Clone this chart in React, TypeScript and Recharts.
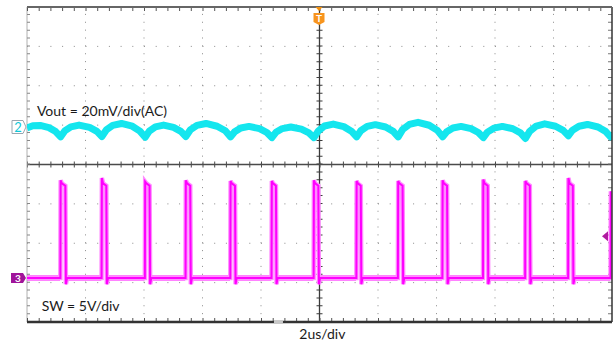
import React from "react";
import { LineChart, Line, XAxis, YAxis, ReferenceLine, ReferenceDot } from "recharts";

// Vout ripple, AC coupled (time in us, value in mV)
const voutTimes = [
  -10.0, -9.8, -9.55, -9.25, -9.02, -8.85,
  -8.71, -8.5, -8.22, -7.86, -7.61, -7.44,
  -7.29, -7.07, -6.77, -6.4, -6.14, -5.96,
  -5.82, -5.61, -5.33, -4.99, -4.74, -4.57,
  -4.42, -4.19, -3.88, -3.5, -3.22, -3.04,
  -2.9, -2.69, -2.41, -2.05, -1.8, -1.63,
  -1.49, -1.27, -0.98, -0.62, -0.36, -0.19,
  -0.04, 0.17, 0.47, 0.83, 1.09, 1.27,
  1.41, 1.63, 1.91, 2.26, 2.52, 2.69,
  2.84, 3.07, 3.37, 3.75, 4.03, 4.21,
  4.35, 4.56, 4.84, 5.18, 5.43, 5.6,
  5.74, 5.96, 6.25, 6.61, 6.87, 7.04,
  7.19, 7.41, 7.7, 8.07, 8.33, 8.51,
  8.65, 8.87, 9.16, 9.52, 9.78, 9.95,
  10.0,
];
const voutMv = [
  -0.5, 0.6, 0.8, -0.3, -2.3, -5.0,
  -2.0, 0.1, 1.0, -0.2, -2.2, -4.8,
  -1.5, 0.8, 1.8, 0.4, -2.1, -5.2,
  -2.1, 0.1, 1.0, -0.2, -2.2, -4.8,
  -1.5, 0.8, 1.8, 0.4, -1.9, -5.0,
  -2.4, -0.5, 0.3, -0.8, -2.8, -5.4,
  -2.7, -0.8, 0.0, -1.1, -3.0, -5.4,
  -2.0, 0.5, 1.5, 0.2, -2.1, -5.0,
  -1.9, 0.3, 1.2, 0.0, -2.2, -5.0,
  -1.3, 1.3, 2.4, 0.9, -1.7, -5.0,
  -2.4, -0.5, 0.3, -0.8, -2.8, -5.4,
  -2.6, -0.6, 0.3, -0.9, -3.0, -5.8,
  -2.1, 0.5, 1.6, 0.4, -1.7, -4.4,
  -1.6, 0.4, 1.3, 0.0, -2.2, -5.0,
  -3.5,
];

// SW node pulses (time in us, level in V)
const swRise = [-8.85, -7.44, -5.96, -4.57, -3.04, -1.63, -0.19, 1.27, 2.69, 4.21, 5.6, 7.04, 8.51];
const swFall = [-8.69, -7.29, -5.81, -4.42, -2.89, -1.49, -0.04, 1.41, 2.84, 4.36, 5.75, 7.19, 8.66];
const swPeak = [12.4, 12.7, 12.2, 12.4, 12.3, 12.3, 12.4, 12.3, 12.3, 12.4, 12.5, 12.3, 12.7];
const swPlateau = 12.0;
const swEnd = 11.7;
const swUndershoot = -0.8;
const swLastEdge = 9.96;

const gridTimes = [-8, -6, -4, -2, 2, 4, 6, 8];
const gridDivs = [-3, -2, -1, 1, 2, 3];

const CH2_OFFSET = 0.952; // divisions
const CH3_OFFSET = -2.88;
const VOUT_SCALE = 20; // mV/div
const SW_SCALE = 5; // V/div
const TRIG_LEVEL = 5.3; // V

const FONT = "Lato, 'Liberation Sans', sans-serif";
const CYAN = "#14e6ee";
const MAGENTA = "#ff00ff";

const voutRows = voutTimes.map((t, i) => ({ t, v: CH2_OFFSET + voutMv[i] / VOUT_SCALE }));

const sw = (v: number) => CH3_OFFSET + v / SW_SCALE;

const swRows: { t: number; v: number }[] = [{ t: -10, v: sw(0) }];
swRise.forEach((r, i) => {
  const f = swFall[i];
  swRows.push(
    { t: r - 0.01, v: sw(0) },
    { t: r, v: sw(swPeak[i]) },
    { t: r + 0.04, v: sw(swPlateau) },
    { t: f, v: sw(swEnd) },
    { t: f + 0.02, v: sw(swUndershoot) },
    { t: f + 0.06, v: sw(0) }
  );
});
swRows.push({ t: swLastEdge - 0.01, v: sw(0) }, { t: swLastEdge, v: sw(11) });

// thick noisy baseline between pulses
const bandRows: { t: number; b: number | null }[] = [];
const bandSegs: [number, number][] = [[-10, swRise[0] - 0.02]];
swFall.forEach((f, i) => {
  const next = i + 1 < swRise.length ? swRise[i + 1] : swLastEdge;
  bandSegs.push([f + 0.08, next - 0.02]);
});
bandSegs.forEach(([a, b]) => {
  bandRows.push({ t: a, b: sw(0) }, { t: b, b: sw(0) }, { t: b + 0.001, b: null });
});

const Txt = ({ cx, cy, text, dx = 0, dy = 0, anchor = "start" }: any) => (
  <text x={cx + dx} y={cy + dy} fontFamily={FONT} fontSize={14} fill="#1a1a1a" textAnchor={anchor}>
    {text}
  </text>
);

const Ch2Marker = ({ cx, cy }: any) => (
  <g>
    <path
      d={`M${cx - 15},${cy - 6.5} L${cx - 4},${cy - 6.5} L${cx - 1},${cy} L${cx - 4},${cy + 6.5} L${cx - 15},${cy + 6.5} Z`}
      fill="#fff"
      stroke="#9aa6b0"
    />
    <text x={cx - 9} y={cy + 5} fontFamily={FONT} fontSize={13} fill="#10c8d8" textAnchor="middle">
      2
    </text>
  </g>
);

const Ch3Marker = ({ cx, cy }: any) => (
  <g>
    <path
      d={`M${cx - 16},${cy - 5} L${cx - 4},${cy - 5} L${cx - 1},${cy} L${cx - 4},${cy + 5} L${cx - 16},${cy + 5} Z`}
      fill="#a0149a"
    />
    <text x={cx - 9} y={cy + 4} fontFamily={FONT} fontSize={10} fontWeight="bold" fill="#fff" textAnchor="middle">
      3
    </text>
  </g>
);

const TrigMarker = ({ cx, cy }: any) => (
  <g>
    <path d={`M${cx - 4},${cy} L${cx + 3},${cy} L${cx - 0.5},${cy + 4} Z`} fill="#f29111" />
    <path
      d={`M${cx - 6},${cy + 6} L${cx + 5},${cy + 6} L${cx + 5},${cy + 15} L${cx - 0.5},${cy + 18} L${cx - 6},${cy + 15} Z`}
      fill="#f7941d"
    />
    <text x={cx - 0.5} y={cy + 15} fontFamily={FONT} fontSize={10} fontWeight="bold" fill="#fff" textAnchor="middle">
      T
    </text>
  </g>
);

const LevelMarker = ({ cx, cy }: any) => (
  <path d={`M${cx - 10},${cy} L${cx - 4},${cy - 5} L${cx - 4},${cy + 5} Z`} fill="#b01aa0" />
);

const PosMarker = ({ cx, cy }: any) => (
  <rect x={cx - 4} y={cy - 1} width={9} height={3} fill="#c8c8c8" />
);

export default function App() {
  return (
    <div style={{ position: "absolute", left: 0, top: 0, width: 615, height: 341, background: "#fff" }}>
      <LineChart width={615} height={341} margin={{ top: 7, right: 3, bottom: 19, left: 27 }}>
        <XAxis type="number" dataKey="t" domain={[-10, 10]} hide allowDataOverflow />
        <YAxis type="number" domain={[-4, 4]} hide allowDataOverflow />

        {gridTimes.map((t) => (
          <ReferenceLine key={`gx${t}`} x={t} stroke="#8a8a8a" strokeDasharray="1 6.875" />
        ))}
        {gridDivs.map((d) => (
          <ReferenceLine key={`gy${d}`} y={d} stroke="#8a8a8a" strokeDasharray="1 10.7" />
        ))}

        {/* center axes with minor ticks */}
        <ReferenceLine x={0} stroke="#3a3a3a" strokeWidth={1.3} />
        <ReferenceLine x={0} stroke="#3a3a3a" strokeWidth={6} strokeDasharray="1 6.875" />
        <ReferenceLine y={0} stroke="#4a4a4a" strokeWidth={1.3} />
        <ReferenceLine y={0} stroke="#4a4a4a" strokeWidth={6} strokeDasharray="1 10.7" />

        {/* frame */}
        <ReferenceLine x={-10} stroke="#b0b0b0" />
        <ReferenceLine x={-10} stroke="#888" strokeWidth={6} strokeDasharray="1 6.875" ifOverflow="hidden" />
        <ReferenceLine x={10} stroke="#777" strokeDasharray="1 6.875" strokeWidth={8} ifOverflow="hidden" />
        <ReferenceLine y={4} stroke="#555" strokeDasharray="1 10.7" strokeWidth={8} ifOverflow="hidden" />
        <ReferenceLine y={-4} stroke="#555" strokeDasharray="1 10.7" strokeWidth={8} ifOverflow="hidden" />

        <Line
          data={voutRows}
          dataKey="v"
          type="linear"
          stroke={CYAN}
          strokeWidth={7}
          strokeLinejoin="round"
          dot={false}
          activeDot={false}
          isAnimationActive={false}
        />
        <Line
          data={bandRows}
          dataKey="b"
          type="linear"
          stroke={MAGENTA}
          strokeWidth={5}
          dot={false}
          activeDot={false}
          isAnimationActive={false}
        />
        <Line
          data={swRows}
          dataKey="v"
          type="linear"
          stroke="#ff8cff"
          strokeWidth={4.5}
          dot={false}
          activeDot={false}
          isAnimationActive={false}
        />
        <Line
          data={swRows}
          dataKey="v"
          type="linear"
          stroke={MAGENTA}
          strokeWidth={2}
          dot={false}
          activeDot={false}
          isAnimationActive={false}
        />

        <ReferenceLine x={10} stroke="#333" strokeWidth={1.5} />
        <ReferenceLine y={4} stroke="#666" strokeWidth={2} />
        <ReferenceLine y={-4} stroke="#333" strokeWidth={2.5} />

        <ReferenceDot x={-10} y={CH2_OFFSET} r={0} shape={(p: any) => <Ch2Marker {...p} />} />
        <ReferenceDot x={-10} y={CH3_OFFSET} r={0} shape={(p: any) => <Ch3Marker {...p} />} />
        <ReferenceDot x={0} y={4} r={0} shape={(p: any) => <TrigMarker {...p} />} />
        <ReferenceDot x={10} y={sw(TRIG_LEVEL)} r={0} shape={(p: any) => <LevelMarker {...p} />} />
        <ReferenceDot x={-1.42} y={-4} r={0} shape={(p: any) => <PosMarker {...p} />} />

        <ReferenceDot x={-9.66} y={1.23} r={0} shape={(p: any) => <Txt {...p} text="Vout = 20mV/div(AC)" />} />
        <ReferenceDot x={-9.5} y={-3.72} r={0} shape={(p: any) => <Txt {...p} text="SW = 5V/div" />} />
        <ReferenceDot x={0.1} y={-4} r={0} shape={(p: any) => <Txt {...p} text="2us/div" anchor="middle" dy={17} />} />
      </LineChart>
    </div>
  );
}
